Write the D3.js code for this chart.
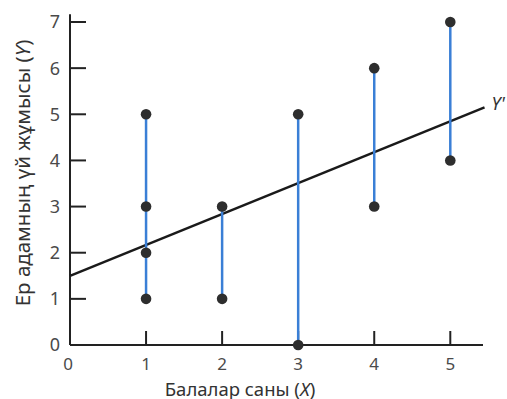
<!DOCTYPE html>
<html><head><meta charset="utf-8">
<script src="https://cdn.jsdelivr.net/npm/d3@7"></script>
<style>body{margin:0;background:#fff}svg{display:block}</style>
</head><body>
<script>
const xValues = [1, 2, 3, 4, 5];
const yGroups = [[1, 2, 3, 5], [1, 3], [0, 5], [3, 6], [4, 7]];
const xTicks = [0, 1, 2, 3, 4, 5];
const yTicks = [0, 1, 2, 3, 4, 5, 6, 7];
const intercept = 1.5, slope = 0.67;
const lineLabel = "Y'";
const xTitle = "Балалар саны (", xTitleVar = "X";
const yTitle = "Ер адамның үй жұмысы (", yTitleVar = "Y";

const W = 507, H = 399;
const svg = d3.select("body").append("svg").attr("width", W).attr("height", H);
const font = "'Noto Sans', 'Open Sans', sans-serif";
const x = d3.scaleLinear().domain([0, 5.43]).range([70, 483]);
const y = d3.scaleLinear().domain([0, 7]).range([345, 22]);

// axes lines
svg.append("line").attr("x1", x(0)).attr("x2", x(5.43)).attr("y1", y(0)).attr("y2", y(0))
  .attr("stroke", "#222").attr("stroke-width", 2);
svg.append("line").attr("x1", x(0)).attr("x2", x(0)).attr("y1", y(0)).attr("y2", y(7.17))
  .attr("stroke", "#222").attr("stroke-width", 2);

// y ticks (inward)
svg.selectAll(".yt").data(yTicks.filter(d => d > 0)).join("line")
  .attr("x1", x(0)).attr("x2", x(0) + 16).attr("y1", d => y(d)).attr("y2", d => y(d))
  .attr("stroke", "#222").attr("stroke-width", 2);
svg.selectAll(".yl").data(yTicks).join("text")
  .attr("x", 60).attr("y", d => y(d)).attr("dy", "0.36em").attr("text-anchor", "end")
  .attr("font-family", font).attr("font-size", 18).attr("fill", "#4a4a4a").text(d => d);

// x ticks (inward)
svg.selectAll(".xt").data(xTicks.filter(d => d > 0)).join("line")
  .attr("x1", d => x(d)).attr("x2", d => x(d)).attr("y1", y(0)).attr("y2", y(0) - 14)
  .attr("stroke", "#222").attr("stroke-width", 2);
svg.selectAll(".xl").data(xTicks).join("text")
  .attr("x", d => x(d) - (d === 0 ? 2 : 0)).attr("y", 370).attr("text-anchor", "middle")
  .attr("font-family", font).attr("font-size", 17).attr("fill", "#4a4a4a").text(d => d);

// titles
const xt = svg.append("text").attr("x", 240).attr("y", 395.5).attr("text-anchor", "middle")
  .attr("font-family", font).attr("font-size", 18.5).attr("fill", "#333");
xt.append("tspan").text(xTitle);
xt.append("tspan").attr("font-style", "italic").text(xTitleVar);
xt.append("tspan").text(")");
const yt = svg.append("text").attr("transform", "translate(30,173) rotate(-90)").attr("text-anchor", "middle")
  .attr("font-family", font).attr("font-size", 20.5).attr("fill", "#333");
yt.append("tspan").text(yTitle);
yt.append("tspan").attr("font-style", "italic").text(yTitleVar);
yt.append("tspan").text(")");

// regression line
const xEnd = 5.45;
svg.append("line").attr("x1", x(0)).attr("y1", y(intercept))
  .attr("x2", x(xEnd)).attr("y2", y(intercept + slope * xEnd))
  .attr("stroke", "#1a1a1a").attr("stroke-width", 2.5);
svg.append("text").attr("x", x(xEnd) + 7).attr("y", y(intercept + slope * xEnd) + 3)
  .attr("font-family", font).attr("font-size", 18).attr("font-style", "italic").attr("fill", "#333").text(lineLabel);

// blue ranges
const groups = xValues.map((v, i) => ({x: v, ys: yGroups[i]}));
svg.selectAll(".rng").data(groups).join("line")
  .attr("x1", d => x(d.x)).attr("x2", d => x(d.x))
  .attr("y1", d => y(d3.min(d.ys))).attr("y2", d => y(d3.max(d.ys)))
  .attr("stroke", "#3a7fd6").attr("stroke-width", 2.5);

// dots
const pts = groups.flatMap(g => g.ys.map(v => ({x: g.x, y: v})));
svg.selectAll(".pt").data(pts).join("circle")
  .attr("cx", d => x(d.x)).attr("cy", d => y(d.y)).attr("r", 5.3)
  .attr("fill", "#2e2e2e");
</script>
</body></html>
